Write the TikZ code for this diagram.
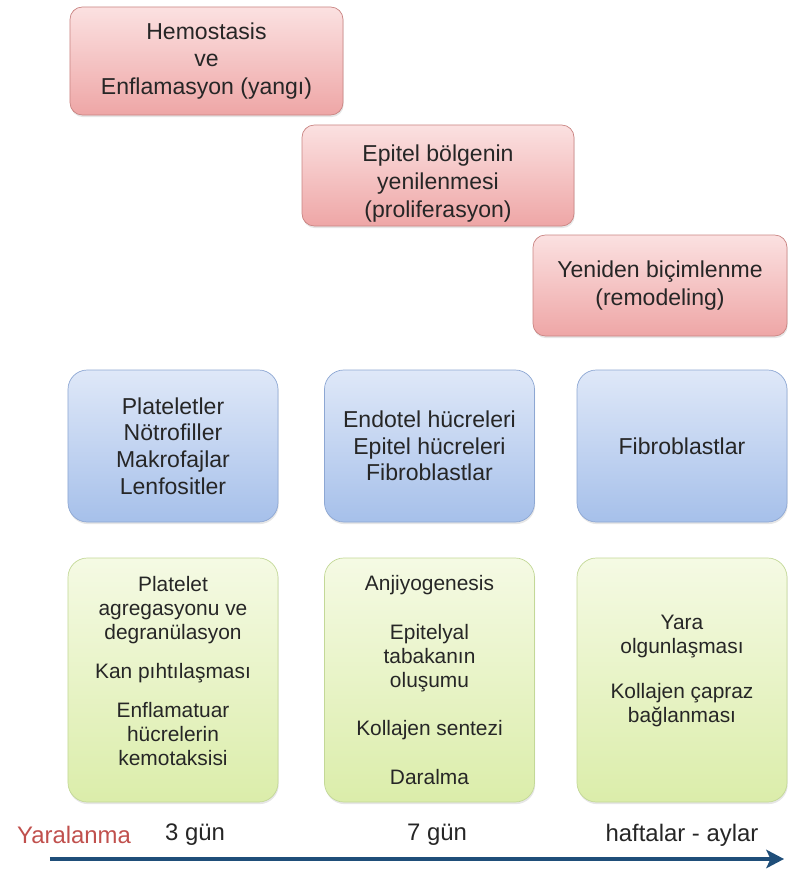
\documentclass[tikz,border=0pt]{standalone}
\usepackage{fontspec}
\setmainfont{Liberation Sans}
\usetikzlibrary{shadows}
\definecolor{txtgray}{HTML}{262626}
\definecolor{pinktop}{HTML}{FBE1E1}
\definecolor{pinkbot}{HTML}{EEA6A6}
\definecolor{pinkedge}{HTML}{C98482}
\definecolor{bluetop}{HTML}{DFE8F8}
\definecolor{bluebot}{HTML}{A6C0EA}
\definecolor{blueedge}{HTML}{8DA7D3}
\definecolor{greentop}{HTML}{F5FAE4}
\definecolor{greenbot}{HTML}{DBEDAA}
\definecolor{greenedge}{HTML}{C3D897}
\definecolor{injred}{HTML}{C0504D}
\definecolor{axisblue}{HTML}{1F4E79}

\begin{document}
\begin{tikzpicture}[scale=0.2]
\tikzstyle{every node}+=[inner sep=0pt, text=txtgray, align=center]
\tikzstyle{phasebox}=[draw=pinkedge, top color=pinktop, bottom color=pinkbot, rounded corners=7pt, font=\fontsize{13.1}{15.9}\selectfont, drop shadow={opacity=0.2, shadow xshift=0.4pt, shadow yshift=-1.2pt}]
\tikzstyle{cellbox}=[draw=blueedge, top color=bluetop, bottom color=bluebot, rounded corners=11pt, minimum width=4.2cm, minimum height=3.04cm, font=\fontsize{13.1}{15.2}\selectfont, drop shadow={opacity=0.2, shadow xshift=0.4pt, shadow yshift=-1.2pt}]
\tikzstyle{eventbox}=[draw=greenedge, top color=greentop, bottom color=greenbot, rounded corners=11pt, minimum width=4.2cm, minimum height=4.88cm, font=\fontsize{11.9}{13.7}\selectfont, drop shadow={opacity=0.2, shadow xshift=0.4pt, shadow yshift=-1.2pt}]
\tikzstyle{daylabel}=[font=\fontsize{13.6}{16}\selectfont]
\useasboundingbox (0,0) rectangle (78.9,-87);
% phases
\node [phasebox, minimum width=5.46cm, minimum height=2.16cm] (hemo) at (20.65,-6.1) {Hemostasis\\ve\\Enflamasyon (yangı)};
\node [phasebox, minimum width=5.44cm, minimum height=2.02cm] (prolif) at (43.8,-17.55) {\mbox{}\\[2.7pt]Epitel bölgenin\\yenilenmesi\\(proliferasyon)};
\node [phasebox, minimum width=5.08cm, minimum height=2.02cm] (remod) at (66.0,-28.55) {Yeniden biçimlenme\\(remodeling)};
% cells
\node [cellbox] (cellA) at (17.3,-44.6) {Plateletler\\Nötrofiller\\Makrofajlar\\Lenfositler};
\node [cellbox] (cellB) at (42.95,-44.6) {Endotel hücreleri\\Epitel hücreleri\\Fibroblastlar};
\node [cellbox] (cellC) at (68.2,-44.6) {Fibroblastlar};
% events
\node [eventbox] (evA) at (17.3,-68) {Platelet\\agregasyonu ve\\degranülasyon\\[8.5pt]Kan pıhtılaşması\\[8.5pt]Enflamatuar\\hücrelerin\\kemotaksisi\\[-3.5pt]\mbox{}};
\node [eventbox] (evB) at (42.95,-68) {Anjiyogenesis\\[14pt]Epitelyal\\tabakanın\\oluşumu\\[14pt]Kollajen sentezi\\[14pt]Daralma};
\node [eventbox] (evC) at (68.2,-68) {Yara\\olgunlaşması\\[12pt]Kollajen çapraz\\bağlanması\\[-1pt]\mbox{}};
% time axis
\node [daylabel, text=injred] (injury) at (7.4,-83.5) {Yaralanma};
\node [daylabel] (day3) at (19.5,-83.5) {3 gün};
\node [daylabel] (day7) at (43.7,-83.5) {7 gün};
\node [daylabel] (weeks) at (68.2,-83.5) {haftalar - aylar};
\coordinate (t0) at (5.0,-85.9);
\coordinate (t1) at (78.4,-85.9);
\draw [axisblue, line width=2pt, shorten >=6pt] (t0) -- (t1);
\fill [axisblue] (t1) -- ++(-1.8,0.95) -- ++(0.45,-0.95) -- ++(-0.45,-0.95) -- cycle;
\end{tikzpicture}
\end{document}
